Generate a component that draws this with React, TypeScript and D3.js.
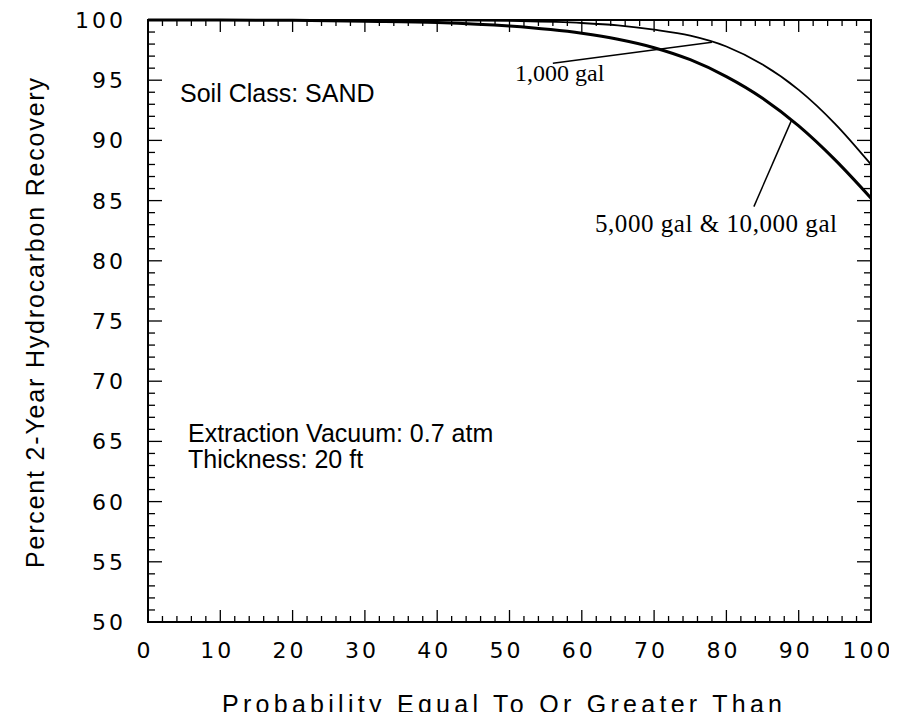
import React, { useRef, useEffect } from "react";
import * as d3 from "d3";

/* chart values */
const probability = [0, 10, 20, 30, 40, 50, 60, 65, 70, 75, 80, 85, 90, 95, 100];
const recovery1000 = [100, 100, 100, 100, 99.98, 99.92, 99.75, 99.55, 99.2, 98.7, 97.8, 96.3, 94.2, 91.4, 88.0];
const recovery5000 = [100, 100, 99.97, 99.9, 99.8, 99.5, 98.9, 98.4, 97.7, 96.7, 95.3, 93.5, 91.2, 88.4, 85.2];

const xTicks = [0, 10, 20, 30, 40, 50, 60, 70, 80, 90, 100];
const yTicks = [50, 55, 60, 65, 70, 75, 80, 85, 90, 95, 100];

/* annotation leader lines: label end (x, y) and the probability where it meets the curve */
const label1000 = { text: "1,000 gal", fromX: 56, fromY: 96.4, toX: 78 };
const label5000 = { text: "5,000 gal & 10,000 gal", fromX: 83.8, fromY: 84.5, toX: 89 };

const App = () => {
  const svgRef = useRef(null);

  const drawChart = () => {
    const margin = { top: 20, left: 148 };
    const width = 723;
    const height = 602;
    d3.select(svgRef.current).selectAll("*").remove();
    const root = d3.select(svgRef.current).attr("width", 897).attr("height", 720);
    const svg = root.append("g").attr("transform", `translate(${margin.left}, ${margin.top})`);

    const x = d3.scaleLinear().domain([0, 100]).range([0, width]);
    const y = d3.scaleLinear().domain([50, 100]).range([height, 0]);

    const sans = "'Liberation Sans', Arial, sans-serif";
    const serif = "'Liberation Serif', 'Times New Roman', serif";
    const tickFont = "'DejaVu Sans', sans-serif";

    /* ticks on all four sides, pointing in */
    const minorX = d3.range(0, 101, 2);
    const minorY = d3.range(50, 101, 1);
    const tickG = svg.append("g").attr("stroke", "#000").attr("stroke-width", 1.3);
    minorX.forEach((v) => {
      const len = v % 10 === 0 ? 12 : 6;
      tickG.append("line").attr("x1", x(v)).attr("x2", x(v)).attr("y1", height).attr("y2", height - len);
      tickG.append("line").attr("x1", x(v)).attr("x2", x(v)).attr("y1", 0).attr("y2", len);
    });
    minorY.forEach((v) => {
      const len = v % 5 === 0 ? 14 : 7;
      tickG.append("line").attr("y1", y(v)).attr("y2", y(v)).attr("x1", 0).attr("x2", len);
      tickG.append("line").attr("y1", y(v)).attr("y2", y(v)).attr("x1", width).attr("x2", width - len);
    });

    /* frame */
    svg
      .append("rect")
      .attr("width", width)
      .attr("height", height)
      .attr("fill", "none")
      .attr("stroke", "#000")
      .attr("stroke-width", 2);

    /* tick labels */
    svg
      .append("g")
      .selectAll("text")
      .data(xTicks)
      .enter()
      .append("text")
      .attr("x", (d) => x(d) - 3)
      .attr("y", height + 36)
      .attr("text-anchor", "middle")
      .style("font-family", tickFont)
      .style("font-size", "22px")
      .style("letter-spacing", "3px")
      .text((d) => d);

    svg
      .append("g")
      .selectAll("text")
      .data(yTicks)
      .enter()
      .append("text")
      .attr("x", -22)
      .attr("y", (d) => y(d) + 8)
      .attr("text-anchor", "end")
      .style("font-family", tickFont)
      .style("font-size", "22px")
      .style("letter-spacing", "3px")
      .text((d) => d);

    /* axis titles */
    svg
      .append("text")
      .attr("x", 74)
      .attr("y", height + 91)
      .attr("textLength", 560)
      .attr("lengthAdjust", "spacing")
      .style("font-family", sans)
      .style("font-size", "25px")
      .text("Probability Equal To Or Greater Than");

    svg
      .append("text")
      .attr("transform", `translate(${-104}, ${548}) rotate(-90)`)
      .attr("textLength", 490)
      .attr("lengthAdjust", "spacing")
      .style("font-family", sans)
      .style("font-size", "25px")
      .text("Percent 2-Year Hydrocarbon Recovery");

    /* lines */
    const pts1000 = probability.map((p, i) => [p, recovery1000[i]]);
    const pts5000 = probability.map((p, i) => [p, recovery5000[i]]);
    const line = d3
      .line()
      .x((d) => x(d[0]))
      .y((d) => y(d[1]))
      .curve(d3.curveMonotoneX);

    svg.append("path").datum(pts1000).attr("fill", "none").attr("stroke", "#000").attr("stroke-width", 1.8).attr("d", line);
    svg.append("path").datum(pts5000).attr("fill", "none").attr("stroke", "#000").attr("stroke-width", 3).attr("d", line);

    /* value on a series at a given probability */
    const valueAt = (vals, p) => d3.scaleLinear().domain(probability).range(vals).clamp(true)(p);

    /* leader lines */
    const leaders = [
      [label1000, recovery1000],
      [label5000, recovery5000],
    ];
    leaders.forEach(([lab, vals]) => {
      svg
        .append("line")
        .attr("x1", x(lab.fromX))
        .attr("y1", y(lab.fromY))
        .attr("x2", x(lab.toX))
        .attr("y2", y(valueAt(vals, lab.toX)))
        .attr("stroke", "#000")
        .attr("stroke-width", 1.5);
    });

    /* annotations */
    svg
      .append("text")
      .attr("x", 515 - margin.left)
      .attr("y", 81 - margin.top)
      .style("font-family", serif)
      .style("font-size", "24px")
      .text(label1000.text);

    svg
      .append("text")
      .attr("x", 595 - margin.left)
      .attr("y", 232 - margin.top)
      .attr("textLength", 242)
      .attr("lengthAdjust", "spacing")
      .style("font-family", serif)
      .style("font-size", "25px")
      .text(label5000.text);

    const notes = [
      { t: "Soil Class: SAND", px: 180, py: 102 },
      { t: "Extraction Vacuum: 0.7 atm", px: 188, py: 442 },
      { t: "Thickness: 20 ft", px: 188, py: 468 },
    ];
    svg
      .append("g")
      .selectAll("text")
      .data(notes)
      .enter()
      .append("text")
      .attr("x", (d) => d.px - margin.left)
      .attr("y", (d) => d.py - margin.top)
      .style("font-family", sans)
      .style("font-size", "25px")
      .text((d) => d.t);
  };

  useEffect(() => {
    drawChart();
  }, []);

  return (
    <div style={{ margin: -8, background: "#fff" }}>
      <svg ref={svgRef} style={{ display: "block" }} />
    </div>
  );
};

export default App;
